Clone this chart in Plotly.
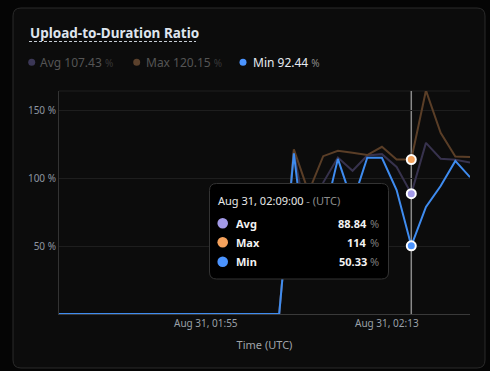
import plotly.graph_objects as go
import pandas as pd

# ---------------- data ----------------
times = pd.date_range("2024-08-31 01:45", "2024-08-31 02:13", freq="1min")
avg_vals = [0]*16 + [120.0, 60.0, 97.0, 115.5, 105.7, 117.0, 118.0, 108.5, 88.84, 126.3, 114.6, 113.8, 111.8]
max_vals = [0]*16 + [121.5, 90.0, 116.5, 120.5, 119.0, 117.3, 123.4, 114.0, 114.0, 165.0, 133.7, 116.2, 115.8]
min_vals = [0]*16 + [118.5, 28.0, 69.0, 114.5, 82.0, 115.3, 115.3, 91.5, 50.33, 79.0, 94.5, 113.0, 101.0]
series_names = ["Avg", "Max", "Min"]
legend_values = ["107.43", "120.15", "92.44"]
hover_index = 24  # 02:09
tick_vals = ["2024-08-31 01:55:00", "2024-08-31 02:07:20"]
tick_text = ["Aug 31, 01:55", "Aug 31, 02:13"]
y_ticks = [50, 100, 150]
y_tick_text = ["50 %", "100 %", "150 %"]

# ---------------- layout helpers ----------------
W, H = 490, 371
L, R, T, B = 59, 470, 91, 314
def PX(x): return (x - L) / (R - L)
def PY(y): return (B - y) / (B - T)

def rounded_rect(x0, y0, x1, y1, r):
    pts = []
    pts.append(f"M{PX(x0+r)},{PY(y0)}")
    pts.append(f"L{PX(x1-r)},{PY(y0)}")
    pts.append(f"Q{PX(x1)},{PY(y0)} {PX(x1)},{PY(y0+r)}")
    pts.append(f"L{PX(x1)},{PY(y1-r)}")
    pts.append(f"Q{PX(x1)},{PY(y1)} {PX(x1-r)},{PY(y1)}")
    pts.append(f"L{PX(x0+r)},{PY(y1)}")
    pts.append(f"Q{PX(x0)},{PY(y1)} {PX(x0)},{PY(y1-r)}")
    pts.append(f"L{PX(x0)},{PY(y0+r)}")
    pts.append(f"Q{PX(x0)},{PY(y0)} {PX(x0+r)},{PY(y0)}")
    pts.append("Z")
    return " ".join(pts)

FONT = "Segoe UI, Noto Sans, sans-serif"
line_colors = ["#37324d", "#5a3e27", "#3f8cf0"]
dot_colors = ["#a39ae8", "#f5a25c", "#4b94ff"]
legend_dot_colors = ["#3b3756", "#5b412c", "#4b94ff"]

fig = go.Figure()
for name, vals, col in zip(series_names, [avg_vals, max_vals, min_vals], line_colors):
    fig.add_trace(go.Scatter(x=times, y=vals, mode="lines", name=name,
                             line=dict(color=col, width=2), hoverinfo="skip"))

hx = times[hover_index]
for vals, col in zip([avg_vals, max_vals, min_vals], dot_colors):
    fig.add_trace(go.Scatter(x=[hx], y=[vals[hover_index]], mode="markers",
                             marker=dict(color=col, size=9, line=dict(color="white", width=2)),
                             hoverinfo="skip", showlegend=False, cliponaxis=False))

shapes = []
# card
shapes.append(dict(type="path", xref="paper", yref="paper", path=rounded_rect(13, 8, 485, 368, 8),
                   fillcolor="#0c0c0c", line=dict(color="#2a2a2a", width=1), layer="below"))
# top border line of plot
shapes.append(dict(type="line", xref="paper", yref="paper", x0=0, x1=1, y0=1, y1=1,
                   line=dict(color="#1e1e1e", width=1), layer="below"))
# crosshair
shapes.append(dict(type="line", xref="x", yref="paper", x0=hx, x1=hx, y0=0, y1=1,
                   line=dict(color="#8a8a8a", width=1.5), layer="below"))
# title underline
shapes.append(dict(type="line", xref="paper", yref="paper", x0=PX(29), x1=PX(196), y0=PY(41.5), y1=PY(41.5),
                   line=dict(color="#c8ced6", width=1, dash="3px,2px")))
# tooltip box
shapes.append(dict(type="path", xref="paper", yref="paper", path=rounded_rect(209.5, 183.5, 388.5, 279, 7),
                   fillcolor="#000000", line=dict(color="#333333", width=1), layer="above"))

annotations = []
annotations.append(dict(xref="paper", yref="paper", x=PX(28), y=PY(33), xanchor="left", yanchor="middle",
                        text="<b>Upload-to-Duration Ratio</b>", showarrow=False,
                        font=dict(family=FONT, size=13.5, color="#dfe5ee")))

# legend row
leg_dot_x = [31.7, 136.7, 243]
leg_text_x = [38, 144, 250.5]
for i, name in enumerate(series_names):
    bright = (i == 2)
    shapes.append(dict(type="circle", xref="paper", yref="paper", xsizemode="pixel", ysizemode="pixel",
                       xanchor=PX(leg_dot_x[i]), yanchor=PY(62.3), x0=-3.5, x1=3.5, y0=-3.5, y1=3.5,
                       fillcolor=legend_dot_colors[i], line=dict(width=0)))
    tcol = "#e6ebf2" if bright else "#555555"
    pcol = "#8a8a8a" if bright else "#383838"
    annotations.append(dict(xref="paper", yref="paper", x=PX(leg_text_x[i]), y=PY(62.5), xanchor="left",
                            yanchor="middle", showarrow=False,
                            text=f"{name} {legend_values[i]} <span style='color:{pcol};font-size:10px'>%</span>",
                            font=dict(family=FONT, size=12, color=tcol)))

# tooltip content
annotations.append(dict(xref="paper", yref="paper", x=PX(216), y=PY(200), xanchor="left", yanchor="middle",
                        showarrow=False,
                        text="Aug 31, 02:09:00<span style='color:#8c8c8c'> - (UTC)</span>",
                        font=dict(family=FONT, size=11, color="#e8e8e8")))
row_y = [223.3, 242.3, 261.7]
for i, name in enumerate(series_names):
    vals = [avg_vals, max_vals, min_vals][i]
    shapes.append(dict(type="circle", xref="paper", yref="paper", xsizemode="pixel", ysizemode="pixel",
                       xanchor=PX(222.7), yanchor=PY(row_y[i]), x0=-5.3, x1=5.3, y0=-5.3, y1=5.3,
                       fillcolor=dot_colors[i], line=dict(width=0), layer="above"))
    annotations.append(dict(xref="paper", yref="paper", x=PX(234), y=PY(row_y[i]), xanchor="left",
                            yanchor="middle", showarrow=False, text=f"<b>{name}</b>",
                            font=dict(family=FONT, size=11, color="#f2f2f2")))
    v = vals[hover_index]
    vtxt = f"{v:g}"
    annotations.append(dict(xref="paper", yref="paper", x=PX(369), y=PY(row_y[i]), xanchor="right",
                            yanchor="middle", showarrow=False, text=f"<b>{vtxt}</b>",
                            font=dict(family=FONT, size=11, color="#f2f2f2")))
    annotations.append(dict(xref="paper", yref="paper", x=PX(381), y=PY(row_y[i]), xanchor="right",
                            yanchor="middle", showarrow=False, text="%",
                            font=dict(family=FONT, size=11, color="#7c7c7c")))

fig.update_layout(
    width=W, height=H, autosize=False,
    margin=dict(l=L, r=W - R, t=T, b=H - B),
    paper_bgcolor="#050505", plot_bgcolor="#0c0c0c",
    showlegend=False,
    font=dict(family=FONT, color="#9aa0a8", size=10),
    shapes=shapes, annotations=annotations,
    xaxis=dict(range=[times[0], times[-1]], tickvals=tick_vals, ticktext=tick_text,
               showgrid=False, zeroline=False, showline=True, linecolor="#3a3a3a", linewidth=1,
               ticks="", tickfont=dict(size=10, color="#9aa0a8"), ticklen=0,
               title=dict(text="Time (UTC)", font=dict(size=11, color="#a0a4aa"), standoff=12)),
    yaxis=dict(range=[0, 164.6], tickvals=y_ticks, ticktext=y_tick_text,
               showgrid=True, gridcolor="#1e1e1e", gridwidth=1, zeroline=False,
               showline=True, linecolor="#333333", linewidth=1, ticks="",
               tickfont=dict(size=10, color="#8e96a0")),
)

fig.write_html("out.html", config={"displayModeBar": False},
               post_script="document.body.style.margin='0';document.body.style.padding='0';"
                           "document.documentElement.style.overflow='hidden';document.body.style.background='#050505';")
